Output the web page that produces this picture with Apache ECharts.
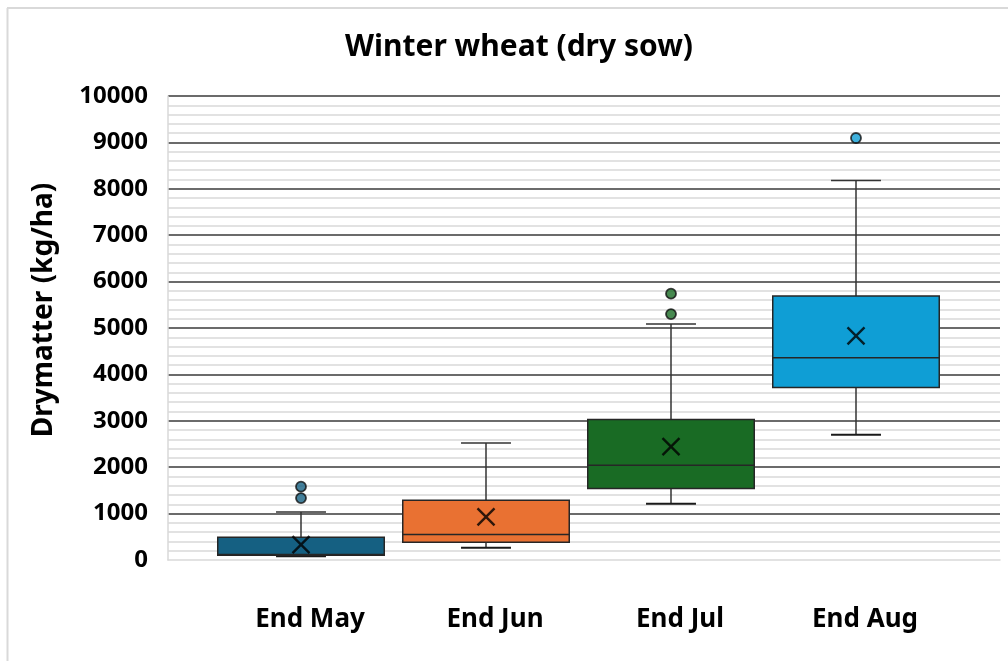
<!DOCTYPE html>
<html>
<head>
<meta charset="utf-8">
<script src="https://cdn.jsdelivr.net/npm/echarts@6/dist/echarts.min.js"></script>
<style>
  html, body { margin: 0; padding: 0; background: #fff; }
  #chart { width: 1008px; height: 661px; }
</style>
</head>
<body>
<div id="chart"></div>
<script>
// 데이터: 카테고리별 상자그림 값 (kg/ha)
const categories = ['End May', 'End Jun', 'End Jul', 'End Aug'];
const whiskerLow = [80, 265, 1210, 2700];
const quartile1 = [100, 380, 1540, 3720];
const medians = [120, 550, 2040, 4360];
const quartile3 = [490, 1290, 3030, 5690];
const whiskerHigh = [1035, 2520, 5085, 8180];
const means = [330, 930, 2445, 4830];
const outliers = [[0, 1335], [0, 1580], [2, 5300], [2, 5740], [3, 9095]];
const yTicks = [0, 1000, 2000, 3000, 4000, 5000, 6000, 7000, 8000, 9000, 10000];

const boxColors = ['#156082', '#E97132', '#196B24', '#0F9ED5'];

const boxData = categories.map((c, i) =>
  [i, whiskerLow[i], quartile1[i], medians[i], quartile3[i], whiskerHigh[i]]);
const meanData = means.map((v, i) => [i, v]);

const chart = echarts.init(document.getElementById('chart'));

const option = {
  backgroundColor: '#ffffff',
  animation: false,
  title: {
    text: 'Winter wheat (dry sow)',
    left: 514,
    top: 27,
    textAlign: 'center',
    textStyle: { fontFamily: 'Noto Sans', fontWeight: 'bold', fontSize: 30, color: '#000' }
  },
  graphic: [
    { type: 'line', shape: { x1: 7.5, y1: 8, x2: 7.5, y2: 661 }, style: { stroke: '#d9d9d9', lineWidth: 2 } },
    { type: 'line', shape: { x1: 7, y1: 8, x2: 1008, y2: 8 }, style: { stroke: '#d9d9d9', lineWidth: 2 } }
  ],
  grid: [
    { left: 168, right: 8, top: 96, bottom: 101 },
    { left: 208.5, right: 59.5, top: 96, bottom: 101 }
  ],
  xAxis: [
    {
      gridIndex: 0, type: 'value', min: 0, max: 1,
      axisLine: { show: true, lineStyle: { color: '#d9d9d9', width: 1.5 } },
      axisTick: { show: false }, axisLabel: { show: false }, splitLine: { show: false }
    },
    {
      gridIndex: 1, type: 'category', data: categories,
      axisLine: { show: false }, axisTick: { show: false },
      axisLabel: {
        margin: 47, padding: [0, 0, 0, 18],
        fontFamily: 'Noto Sans', fontWeight: 'bold', fontSize: 26, color: '#000'
      }
    }
  ],
  yAxis: [
    {
      gridIndex: 0, type: 'value', min: 0, max: 10000, interval: 1000,
      name: 'Drymatter (kg/ha)', nameLocation: 'middle', nameGap: 110,
      nameTextStyle: { fontFamily: 'Noto Sans', fontWeight: 'bold', fontSize: 28, color: '#000', padding: [0, 0, 0, 36] },
      axisLine: { show: true, lineStyle: { color: '#d9d9d9', width: 1.5 } },
      axisTick: { show: false },
      axisLabel: {
        margin: 20, fontFamily: 'Noto Sans', fontWeight: 'bold', fontSize: 24, color: '#000',
        formatter: v => yTicks.includes(v) ? String(v) : ''
      },
      splitLine: { show: true, showMinLine: false, lineStyle: { color: '#3a3a3a', width: 1.5 } },
      minorTick: { show: false, splitNumber: 5 },
      minorSplitLine: { show: true, lineStyle: { color: '#d9d9d9', width: 1.5 } }
    },
    { gridIndex: 1, type: 'value', min: 0, max: 10000, show: false, splitLine: { show: false } }
  ],
  series: [
    {
      type: 'custom',
      xAxisIndex: 1, yAxisIndex: 1,
      data: boxData,
      renderItem: (params, api) => {
        const idx = api.value(0);
        const band = api.size([1, 0])[0];
        const x = api.coord([idx, 0])[0];
        const py = v => api.coord([idx, v])[1];
        const lo = py(api.value(1)), q1 = py(api.value(2)), md = py(api.value(3));
        const q3 = py(api.value(4)), hi = py(api.value(5));
        const bw = band * 0.9, cw = band * 0.27;
        const line = { stroke: '#333333', lineWidth: 1.5 };
        return {
          type: 'group',
          children: [
            { type: 'line', shape: { x1: x, y1: q3, x2: x, y2: hi }, style: line },
            { type: 'line', shape: { x1: x, y1: q1, x2: x, y2: lo }, style: line },
            { type: 'line', shape: { x1: x - cw / 2, y1: hi, x2: x + cw / 2, y2: hi }, style: line },
            { type: 'line', shape: { x1: x - cw / 2, y1: lo, x2: x + cw / 2, y2: lo }, style: { stroke: '#1a1a1a', lineWidth: 2 } },
            {
              type: 'rect',
              shape: { x: x - bw / 2, y: q3, width: bw, height: q1 - q3 },
              style: { fill: boxColors[idx], stroke: '#262626', lineWidth: 1.5 }
            },
            { type: 'line', shape: { x1: x - bw / 2, y1: md, x2: x + bw / 2, y2: md }, style: { stroke: '#262626', lineWidth: 1.5 } }
          ]
        };
      },
      z: 2
    },
    {
      type: 'scatter',
      xAxisIndex: 1, yAxisIndex: 1,
      data: meanData,
      symbol: 'path://M0,0L10,10M10,0L0,10',
      symbolSize: 17,
      itemStyle: { color: 'none', borderColor: '#000', borderWidth: 2.4 },
      z: 3
    },
    {
      type: 'scatter',
      xAxisIndex: 1, yAxisIndex: 1,
      data: outliers,
      symbol: 'circle',
      symbolSize: 10,
      itemStyle: {
        color: p => boxColors[p.value[0]],
        borderColor: '#111', borderWidth: 1.8
      },
      z: 3
    }
  ]
};

chart.setOption(option);
</script>
</body>
</html>
